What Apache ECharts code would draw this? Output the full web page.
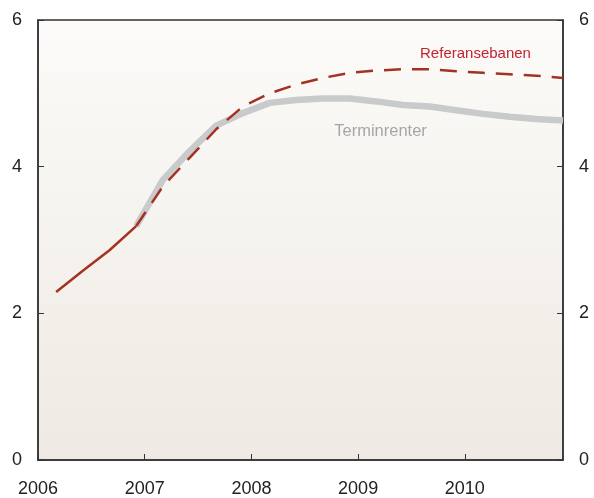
<!DOCTYPE html>
<html>
<head>
<meta charset="utf-8">
<script src="https://cdn.jsdelivr.net/npm/echarts@6/dist/echarts.min.js"></script>
<style>
html, body { margin: 0; padding: 0; background: #fff; }
#main { width: 594px; height: 498px; }
</style>
</head>
<body>
<div id="main"></div>
<script>
// kvartalsvise tidspunkt (desimalår)
var quarters = [2006.17, 2006.42, 2006.67, 2006.92, 2007.17, 2007.42, 2007.67, 2007.92,
                2008.17, 2008.42, 2008.67, 2008.92, 2009.17, 2009.42, 2009.67, 2009.92,
                2010.17, 2010.42, 2010.67, 2010.92];
// historisk rente (heltrukket)
var historikk = [2.29, 2.58, 2.86, 3.19];
// referansebanen (stiplet), fra siste historiske punkt
var referansebane = [3.19, 3.73, 4.12, 4.51, 4.82, 5.00, 5.12, 5.21, 5.28, 5.31, 5.33,
                     5.33, 5.30, 5.28, 5.26, 5.24, 5.21];
// terminrenter
var terminrenter = [3.19, 3.82, 4.21, 4.56, 4.73, 4.87, 4.91, 4.93, 4.93, 4.89, 4.84,
                    4.82, 4.77, 4.72, 4.68, 4.65, 4.63];
var yTicks = [0, 2, 4, 6];

function pairs(xs, ys, offset) {
	var out = [];
	for (var i = 0; i < ys.length; i++) {
		out.push([xs[i + offset], ys[i]]);
	}
	return out;
}

var fontFam = '"Liberation Sans", Arial, sans-serif';
var axisLineStyle = { color: '#333', width: 1.5 };

var yAxisBase = {
	type: 'value',
	min: yTicks[0],
	max: yTicks[yTicks.length - 1],
	interval: 2,
	splitLine: { show: false },
	axisLine: { show: true, lineStyle: axisLineStyle },
	axisTick: { show: true, inside: true, length: 6, lineStyle: { color: '#333' } },
	axisLabel: { color: '#222', fontSize: 18, fontFamily: fontFam, margin: 16 }
};

var myChart = echarts.init(document.getElementById('main'), null, { renderer: 'canvas' });

var option = {
	animation: false,
	grid: {
		left: 38, right: 31, top: 20, bottom: 37,
		show: true,
		borderColor: '#333',
		borderWidth: 1.5,
		backgroundColor: new echarts.graphic.LinearGradient(0, 0, 0, 1, [
			{ offset: 0, color: '#fcfbf9' },
			{ offset: 1, color: '#eeeae3' }
		])
	},
	xAxis: {
		type: 'value',
		min: 2006,
		max: 2010.92,
		interval: 1,
		splitLine: { show: false },
		axisLine: { show: true, lineStyle: axisLineStyle },
		axisTick: { show: true, inside: true, length: 6, lineStyle: { color: '#333' } },
		axisLabel: {
			color: '#222', fontSize: 18, fontFamily: fontFam, margin: 20,
			showMaxLabel: false,
			formatter: function (v) { return String(Math.round(v)); }
		}
	},
	yAxis: [
		Object.assign({}, yAxisBase, { position: 'left' }),
		Object.assign({}, yAxisBase, { position: 'right' })
	],
	series: [
		{
			name: 'Terminrenter',
			type: 'line',
			data: pairs(quarters, terminrenter, 3),
			symbol: 'none',
			z: 2,
			lineStyle: { color: '#c9cacc', width: 6.5 },
			markPoint: {
				symbol: 'circle', symbolSize: 0,
				data: [{ coord: [2009.21, 4.48] }],
				label: {
					show: true, position: 'inside', formatter: 'Terminrenter',
					color: '#a6a6a6', fontSize: 16.5, fontFamily: fontFam
				}
			}
		},
		{
			name: 'Historikk',
			type: 'line',
			data: pairs(quarters, historikk, 0),
			symbol: 'none',
			z: 3,
			lineStyle: { color: '#a33222', width: 2.5 }
		},
		{
			name: 'Referansebanen',
			type: 'line',
			data: pairs(quarters, referansebane, 3),
			symbol: 'none',
			z: 3,
			lineStyle: { color: '#a33222', width: 2.5, type: [17, 11] },
			markPoint: {
				symbol: 'circle', symbolSize: 0,
				data: [{ coord: [2010.10, 5.54] }],
				label: {
					show: true, position: 'inside', formatter: 'Referansebanen',
					color: '#c4232f', fontSize: 15, fontFamily: fontFam
				}
			}
		}
	]
};

myChart.setOption(option);
</script>
</body>
</html>
